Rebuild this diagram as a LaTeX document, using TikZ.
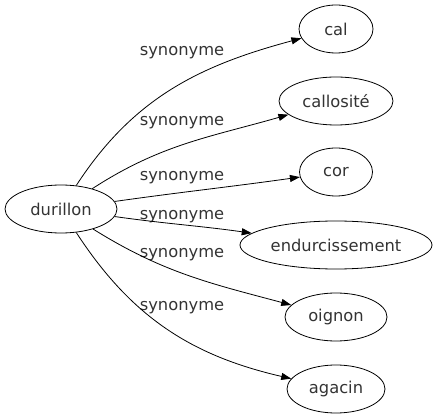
\documentclass[tikz,border=0pt]{standalone}
\usepackage{fontspec}
\setmainfont{DejaVu Sans}
\usetikzlibrary{arrows.meta,shapes.geometric}

\begin{document}
\begin{tikzpicture}[x=1pt,y=-1pt,
  word/.style={ellipse,draw,line width=0.8pt,inner sep=0pt,minimum height=48pt,
    text=black!80,font=\fontsize{16.3}{19}\selectfont},
  rel/.style={text=black!80,font=\fontsize{16.3}{19}\selectfont},
  link/.style={-{Triangle[length=10pt,width=7pt]},line width=0.8pt}]

\useasboundingbox (0,0) rectangle (436,419);

% ----- Source word -----
\node[word,minimum width=112pt] (dur) at (61,209) {durillon};

% ----- Synonyms -----
\foreach \n/\txt/\y/\w in {cal/cal/29/74, callo/callosité/101/114, cor/cor/172/73,
    endu/endurcissement/245/192, oign/oignon/317/102, agac/agacin/389/98} {
  \node[word,minimum width=\w pt] (\n) at (336,\y) {\txt};
}

% ----- Edge labels -----
\foreach \k/\y in {1/53, 2/123, 3/178, 4/217, 5/255, 6/308} {
  \node[rel] (lab\k) at (182,\y) {synonyme};
}

% ----- Edges -----
\draw[link] (dur) to[out=57,in=195]  (cal);
\draw[link] (dur) to[out=33,in=196]  (callo);
\draw[link] (dur) to[out=8,in=188]   (cor);
\draw[link] (dur) to[out=-8,in=172]  (endu);
\draw[link] (dur) to[out=-32,in=165] (oign);
\draw[link] (dur) to[out=-57,in=167] (agac);

\end{tikzpicture}
\end{document}
